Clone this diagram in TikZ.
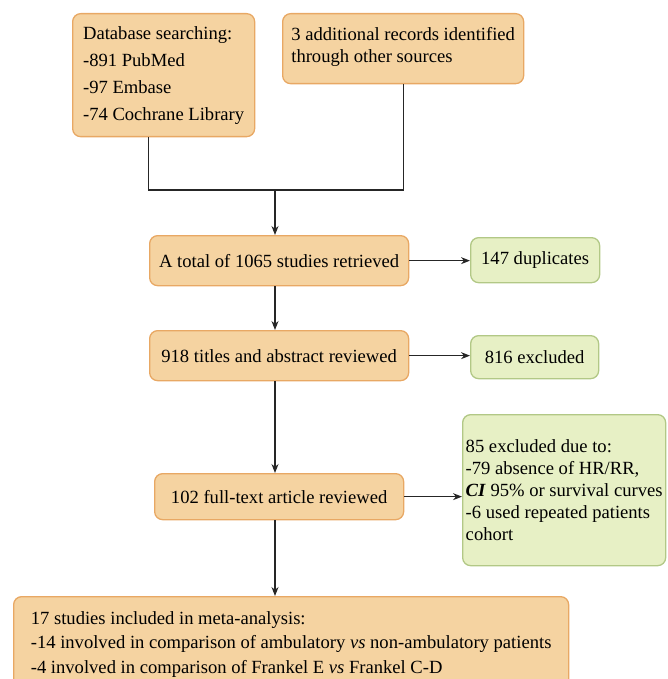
\documentclass[tikz,border=0pt]{standalone}
\usepackage{fontspec}
\setmainfont{Liberation Serif}
\usetikzlibrary{arrows.meta, positioning}

\definecolor{boxorange}{RGB}{245,211,161}
\definecolor{lineorange}{RGB}{232,168,100}
\definecolor{boxgreen}{RGB}{231,240,197}
\definecolor{linegreen}{RGB}{178,200,134}

\begin{document}
\begin{tikzpicture}[
	x=1pt, y=-1pt,
	box/.style={
		rectangle,
		draw=lineorange,
		fill=boxorange,
		line width=1.3pt,
		rounded corners=8pt,
		align=left,
		anchor=north west,
		inner sep=2pt,
		font=\fontsize{18.6}{22}\selectfont
	},
	outbox/.style={box, draw=linegreen, fill=boxgreen},
	arrow/.style={-{Stealth[length=9pt, width=7pt]}, line width=1.1pt, black!85},
	link/.style={line width=1.1pt, black!85}
]

	\useasboundingbox (0,0) rectangle (667,679);

	\node[box, minimum width=182pt, minimum height=123pt] (db) at (72,13) {Database searching:\\[5pt]-891 PubMed\\[5pt]-97 Embase\\[5pt]-74 Cochrane Library};
	\node[box, minimum width=241pt, minimum height=70pt] (other) at (282,13) {3 additional records identified\\through other sources\\[-14pt]};

	\node[box, minimum width=259pt, minimum height=50pt] (total) at (149,235) {A total of 1065 studies retrieved};
	\node[outbox, minimum width=129pt, minimum height=45pt] (dup) at (470,237) {147 duplicates};

	\node[box, minimum width=259pt, minimum height=50pt] (titles) at (149,330) {918 titles and abstract reviewed};
	\node[outbox, minimum width=128pt, minimum height=43pt] (excl) at (470,335) {816 excluded};

	\node[box, minimum width=249pt, minimum height=46pt] (fulltext) at (154,473) {102 full-text article reviewed};
	\node[outbox, minimum width=203pt, minimum height=151pt] (reasons) at (462,414) {85 excluded due to:\\-79 absence of HR/RR,\\\textbf{\textit{CI}} 95\% or survival curves\\-6 used repeated patients\\cohort};

	\node[box, minimum width=555pt, minimum height=95pt, font=\fontsize{18.6}{24.5}\selectfont] (included) at (13,596) {17 studies included in meta-analysis:\\-14 involved in comparison of ambulatory \textit{vs} non-ambulatory patients\\-4 involved in comparison of Frankel E \textit{vs} Frankel C-D};

	\coordinate (join) at (275,190);

	\draw[link] ([xshift=-15pt]db.south) |- (join);
	\draw[link] (other.south) |- (join);
	\draw[arrow] (join) -- (join |- total.north);
	\draw[arrow] (total.east) -- (total.east -| dup.west);
	\draw[arrow] (total.south -| join) -- (titles.north -| join);
	\draw[arrow] (titles.east) -- (titles.east -| excl.west);
	\draw[arrow] (titles.south -| join) -- (fulltext.north -| join);
	\draw[arrow] (fulltext.east) -- (fulltext.east -| reasons.west);
	\draw[arrow] (fulltext.south -| join) -- (included.north -| join);

\end{tikzpicture}
\end{document}
